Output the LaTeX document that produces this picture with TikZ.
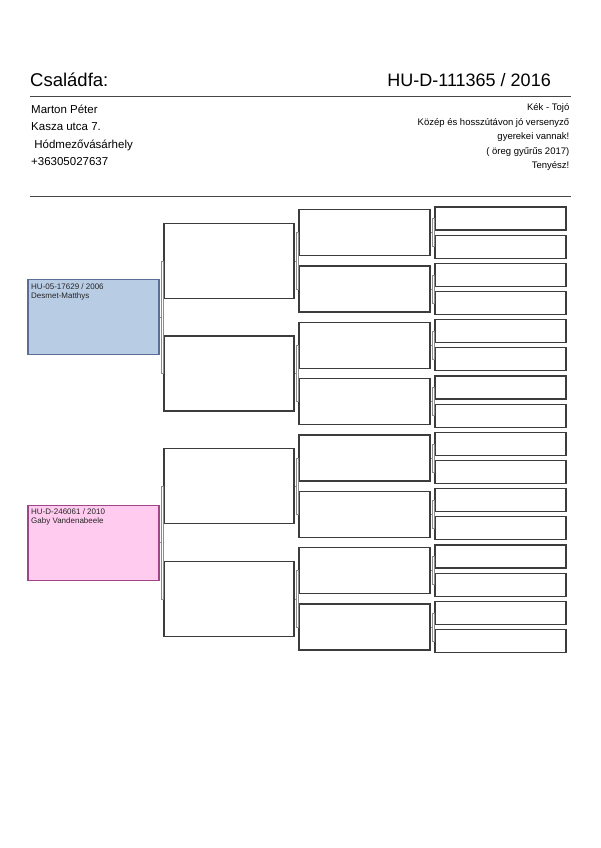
\documentclass[tikz,border=0pt]{standalone}
\usepackage{fontspec}
\setmainfont{Liberation Sans}
\usepackage{tikz}
\usetikzlibrary{positioning, calc}
\definecolor{boxline}{RGB}{60,60,60}
\definecolor{linkgray}{RGB}{140,140,140}
\definecolor{rulegray}{RGB}{70,70,70}
\definecolor{sireblue}{RGB}{184,204,228}
\definecolor{sireline}{RGB}{90,110,150}
\definecolor{dampink}{RGB}{255,204,240}
\definecolor{damline}{RGB}{160,70,135}
\tikzset{
  pbox/.style={rectangle, draw=boxline, fill=white, line width=1.2pt,
    inner sep=0pt, minimum width=131pt},
  gen1/.style={pbox, minimum height=75pt},
  gen2/.style={pbox, minimum width=130pt, minimum height=75pt},
  gen3/.style={pbox, minimum height=46pt},
  gen4/.style={pbox, minimum height=23pt},
  boxtext/.style={anchor=base west, align=left, inner sep=0pt,
    font=\fontsize{8}{8.8}\selectfont, text=black!85},
  infoleft/.style={anchor=base west, inner sep=0pt, font=\fontsize{11.5}{14}\selectfont},
  inforight/.style={anchor=base east, inner sep=0pt, font=\fontsize{9.5}{12}\selectfont},
  link/.style={draw=linkgray, line width=0.6pt},
  rule/.style={draw=rulegray, line width=1.2pt}
}

\begin{document}
\begin{tikzpicture}[x=1pt, y=-1pt]
  \useasboundingbox (0,0) rectangle (600,848);

  % Header
  \node[anchor=base west, inner sep=0pt, font=\fontsize{18.5}{22}\selectfont] (title) at (30,87) {Családfa:};
  \node[anchor=base east, inner sep=0pt, font=\fontsize{18}{22}\selectfont] (ring) at (551,87) {HU-D-111365 / 2016};
  \draw[rule] (30,96.5) -- (571,96.5);

  % Owner
  \node[infoleft] (owner) at (31,113.5) {Marton Péter};
  \node[infoleft] (street) at (31,131) {Kasza utca 7.};
  \node[infoleft] (town) at (31,148.5) {\ Hódmezővásárhely};
  \node[infoleft] (phone) at (31,165.5) {+36305027637};

  % Bird notes
  \node[inforight] (note1) at (569.5,110.5) {Kék - Tojó};
  \node[inforight] (note2) at (569.5,125) {Közép és hosszútávon jó versenyző};
  \node[inforight] (note3) at (569.5,139.5) {gyerekei vannak!};
  \node[inforight] (note4) at (569.5,154) {( öreg gyűrűs 2017)};
  \node[inforight] (note5) at (569.5,168.5) {Tenyész!};
  \draw[rule] (30,196.5) -- (571,196.5);

  % Parents
  \node[gen1, fill=sireblue, draw=sireline] (g1-1) at (93.5,317.3) {};
  \node[boxtext] (sire) at (31,298.3) {HU-05-17629 / 2006\\Desmet-Matthys};
  \node[gen1, fill=dampink, draw=damline] (g1-2) at (93.5,542.6) {};
  \node[boxtext] (dam) at (31,523) {HU-D-246061 / 2010\\Gaby Vandenabeele};

  % Grandparents and further back
  \foreach \i in {1,...,4}
    \node[gen2] (g2-\i) at (229,{260.8+112.67*(\i-1)}) {};
  \foreach \i in {1,...,8}
    \node[gen3] (g3-\i) at (364.5,{232.6+56.33*(\i-1)}) {};
  \foreach \i in {1,...,16}
    \node[gen4] (g4-\i) at (500.5,{218.5+28.17*(\i-1)}) {};

  % Brackets
  \foreach \g/\n/\k in {1/2/2, 2/4/3, 3/8/4} {
    \foreach \p [evaluate=\p as \a using int(2*\p-1),
                 evaluate=\p as \b using int(2*\p)] in {1,...,\n} {
      \draw[link] (g\g-\p.east) -- ++(2pt,0) coordinate (j);
      \draw[link] (j |- g\k-\a.west) rectangle ([xshift=2pt]j |- g\k-\b.west);
    }
  }
\end{tikzpicture}
\end{document}
